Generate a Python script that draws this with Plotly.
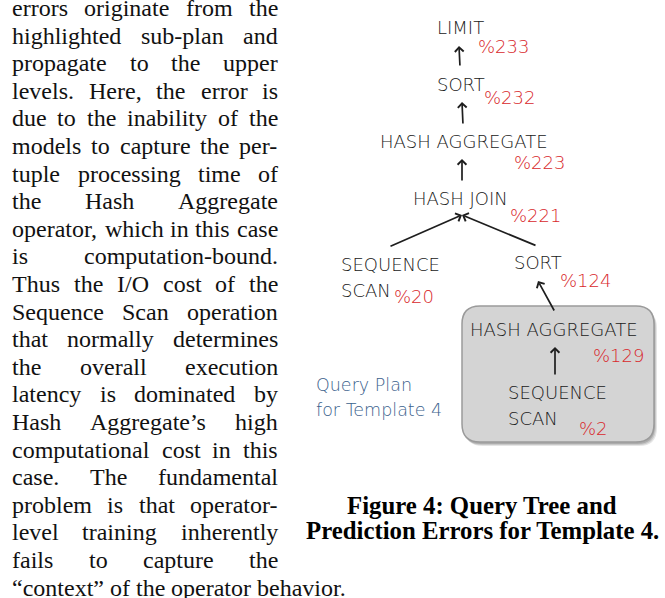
import plotly.graph_objects as go

W, H = 665, 598

# ---------------- data ----------------
body_lines = [
    "errors originate from the",
    "highlighted sub-plan and",
    "propagate to the upper",
    "levels. Here, the error is",
    "due to the inability of the",
    "models to capture the per-",
    "tuple processing time of",
    "the Hash Aggregate",
    "operator, which in this case",
    "is computation-bound.",
    "Thus the I/O cost of the",
    "Sequence Scan operation",
    "that normally determines",
    "the overall execution",
    "latency is dominated by",
    "Hash Aggregate\u2019s high",
    "computational cost in this",
    "case. The fundamental",
    "problem is that operator-",
    "level training inherently",
    "fails to capture the",
    "\u201ccontext\u201d of the operator behavior.",
]
node_labels = ["LIMIT", "SORT", "HASH AGGREGATE", "HASH JOIN",
               "SEQUENCE\nSCAN", "SORT", "HASH AGGREGATE", "SEQUENCE\nSCAN"]
error_pct = [233, 232, 223, 221, 20, 124, 129, 2]
parent = [None, 0, 1, 2, 3, 3, 5, 6]
caption_lines = ["Figure 4: Query Tree and", "Prediction Errors for Template 4."]
plan_title = ["Query Plan", "for Template 4"]

# ---------------- layout (positions, px) ----------------
node_x = [436, 436, 379, 412, 340, 513, 469, 507]
node_y = [27, 84, 141.5, 198, 264, 262, 329, 392]
err_x = [477, 483, 513, 509, 393, 559, 592, 578]
err_y = [46.5, 97, 162, 215, 296, 280, 355, 428.5]
in_xy = [(459, 46), (462, 102), (462, 159), (462, 215), None, (538, 281), (555, 347), None]
out_xy = [None, (460, 67), (463, 125), (462, 182), (389, 247), (537, 246), (555, 312), (555, 376)]
box = dict(x0=462, x1=654, y0=306, y1=442, r=18)

NODE_FONT = "DejaVu Sans"
NODE_SIZE = 18
ERR_SIZE = 18
DARK = "#202020"
RED = "#d8282c"
BLUE = "#3b618c"

# Times-Roman advance widths (1/1000 em)
TW = {' ': 250, ',': 250, '.': 250, '-': 333, '/': 278, '\u2019': 333, '\u201c': 444, '\u201d': 444,
      'a': 444, 'b': 500, 'c': 444, 'd': 500, 'e': 444, 'f': 333, 'g': 500, 'h': 500, 'i': 278,
      'j': 278, 'k': 500, 'l': 278, 'm': 778, 'n': 500, 'o': 500, 'p': 500, 'q': 500, 'r': 333,
      's': 389, 't': 278, 'u': 500, 'v': 500, 'w': 722, 'x': 500, 'y': 500, 'z': 444,
      'A': 722, 'B': 667, 'C': 667, 'D': 722, 'E': 611, 'F': 556, 'G': 722, 'H': 722, 'I': 333,
      'J': 389, 'K': 722, 'L': 611, 'M': 889, 'N': 722, 'O': 722, 'P': 556, 'Q': 722, 'R': 667,
      'S': 556, 'T': 611, 'U': 722, 'V': 722, 'W': 944, 'X': 722, 'Y': 722, 'Z': 611}

BODY_SIZE = 24
COL_L, COL_R = 11, 277
BASE0, LEAD = 16, 27.6


def wwidth(word):
    return sum(TW.get(c, 500) for c in word) * BODY_SIZE / 1000.0


fig = go.Figure()
ann = []
shapes = []

# ---------------- body text (justified) ----------------
for i, line in enumerate(body_lines):
    cy = BASE0 + LEAD * i - 8
    words = line.split(" ")
    widths = [wwidth(w) for w in words]
    last = i == len(body_lines) - 1
    if last or len(words) == 1:
        gap = 250 * BODY_SIZE / 1000.0
    else:
        gap = (COL_R - COL_L - sum(widths)) / (len(words) - 1)
    x = COL_L
    for w, wd in zip(words, widths):
        ann.append(dict(x=x, y=cy, text=w, showarrow=False, xanchor="left", yanchor="middle",
                        borderpad=0, font=dict(family="Liberation Serif", size=BODY_SIZE, color="#111")))
        x += wd + gap

# ---------------- caption ----------------
for j, cl in enumerate(caption_lines):
    ann.append(dict(x=482, y=505 + 25.5 * j, text="<b>%s</b>" % cl, showarrow=False,
                    xanchor="center", yanchor="middle", borderpad=0,
                    font=dict(family="Liberation Serif", size=24.8, color="#000")))

# ---------------- highlighted sub-plan box ----------------
def rrect(x0, y0, x1, y1, r):
    return ("M%f,%f L%f,%f Q%f,%f %f,%f L%f,%f Q%f,%f %f,%f L%f,%f Q%f,%f %f,%f L%f,%f Q%f,%f %f,%f Z" % (
        x0 + r, y0, x1 - r, y0, x1, y0, x1, y0 + r, x1, y1 - r, x1, y1, x1 - r, y1,
        x0 + r, y1, x0, y1, x0, y1 - r, x0, y0 + r, x0, y0, x0 + r, y0))

for k, (dx, dy, op) in enumerate([(3, 4, 0.10), (2, 3, 0.12), (1, 2, 0.14)]):
    shapes.append(dict(type="path", xref="x", yref="y",
                       path=rrect(box["x0"] + dx, box["y0"] + dy, box["x1"] + dx, box["y1"] + dy, box["r"]),
                       fillcolor="rgba(0,0,0,%f)" % op, line=dict(width=0), layer="below"))
shapes.append(dict(type="path", xref="x", yref="y",
                   path=rrect(box["x0"], box["y0"], box["x1"], box["y1"], box["r"]),
                   fillcolor="#d4d4d4", line=dict(color="#9a9a9a", width=1.5), layer="below"))

# ---------------- tree nodes ----------------
for i, lab in enumerate(node_labels):
    for j, part in enumerate(lab.split("\n")):
        ann.append(dict(x=node_x[i], y=node_y[i] + 26 * j, text=part, showarrow=False,
                        xanchor="left", yanchor="middle", borderpad=0,
                        font=dict(family=NODE_FONT, size=NODE_SIZE, color=DARK, weight=300)))
    ann.append(dict(x=err_x[i], y=err_y[i], text="%%%d" % error_pct[i], showarrow=False,
                    xanchor="left", yanchor="middle", borderpad=0,
                    font=dict(family=NODE_FONT, size=ERR_SIZE, color=RED, weight=300)))

# ---------------- edges (child -> parent) ----------------
for c, p in enumerate(parent):
    if p is None:
        continue
    hx, hy = in_xy[p]
    tx, ty = out_xy[c]
    ann.append(dict(x=hx, y=hy, ax=tx, ay=ty, xref="x", yref="y", axref="x", ayref="y",
                    text="", showarrow=True, arrowhead=4, arrowsize=1.0, arrowwidth=1.7,
                    arrowcolor="#1e1e1e", standoff=0, startstandoff=0))

# ---------------- plan title ----------------
for j, t in enumerate(plan_title):
    ann.append(dict(x=315, y=385 + 25 * j, text=t, showarrow=False, xanchor="left", yanchor="middle",
                    borderpad=0, font=dict(family=NODE_FONT, size=17.5, color=BLUE, weight=300)))

fig.update_layout(
    width=W, height=H,
    margin=dict(l=0, r=0, t=0, b=0),
    paper_bgcolor="white", plot_bgcolor="white",
    xaxis=dict(range=[0, W], visible=False, fixedrange=True),
    yaxis=dict(range=[H, 0], visible=False, fixedrange=True),
    showlegend=False,
    annotations=ann, shapes=shapes,
)
fig.write_html("out.html", config={"displayModeBar": False},
               post_script="document.body.style.margin='0';document.body.style.overflow='hidden';")
